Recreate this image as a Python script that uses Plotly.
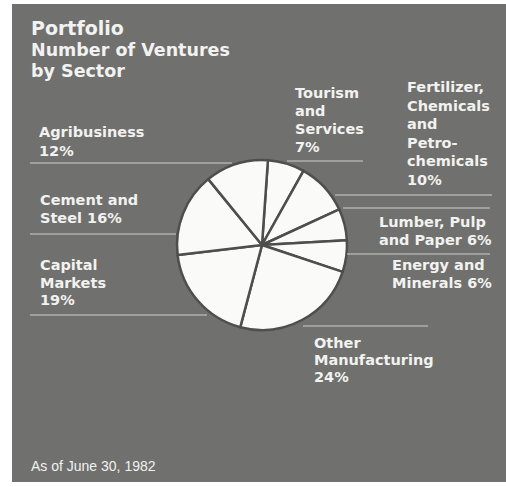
import plotly.graph_objects as go

W, H = 506, 487

# Portfolio composition, clockwise from 12 o'clock
sectors = [
    "Tourism and Services",
    "Fertilizer, Chemicals and Petrochemicals",
    "Lumber, Pulp and Paper",
    "Energy and Minerals",
    "Other Manufacturing",
    "Capital Markets",
    "Cement and Steel",
    "Agribusiness",
]
shares = [7, 10, 6, 6, 24, 19, 16, 12]

# Label text, split into printed lines, keyed to the sector list
label_lines = [
    ["Tourism", "and", "Services", "{}%"],
    ["Fertilizer,", "Chemicals", "and", "Petro-", "chemicals", "{}%"],
    ["Lumber, Pulp", "and Paper {}%"],
    ["Energy and", "Minerals {}%"],
    ["Other", "Manufacturing", "{}%"],
    ["Capital", "Markets", "{}%"],
    ["Cement and", "Steel {}%"],
    ["Agribusiness", "{}%"],
]

title_lines = ["Portfolio", "Number of Ventures", "by Sector"]
footnote = "As of June 30, 1982"

BG = "rgb(112,112,110)"
INK = "rgb(242,242,240)"
RULE = "rgb(205,205,203)"
FONT = "DejaVu Sans"


def px(x):
    return x / W


def py(y):
    return 1 - y / H


# pie geometry (pixels)
cx, cy, r = 262, 245, 85

fig = go.Figure()
fig.add_trace(go.Pie(
    labels=sectors,
    values=shares,
    sort=False,
    direction="clockwise",
    rotation=4,
    textinfo="none",
    hoverinfo="label+percent",
    marker=dict(colors=["rgb(250,250,248)"] * len(shares),
                line=dict(color="rgb(78,78,76)", width=2.5)),
    domain=dict(x=[px(cx - r), px(cx + r)], y=[py(cy + r), py(cy - r)]),
    showlegend=False,
))

shapes = [dict(type="rect", xref="paper", yref="paper",
               x0=px(12), x1=px(506), y0=py(482), y1=py(4),
               fillcolor=BG, line=dict(width=0), layer="below")]

# label placement: left x, top of first line, line pitch (pixels)
label_pos = [(293, 88, 18), (405, 82, 18.6), (377, 217, 18), (390, 260, 18),
             (312, 338, 17), (38, 260, 17.5), (38, 195, 18), (37, 127, 19)]
# rule under each label: x from, x to, y
rules = [(287, 363, 161), (335, 492, 195), (343, 490, 208), (347, 490, 254),
         (303, 428, 326), (30, 207, 315), (30, 176, 234), (30, 232, 163)]

for x0, x1, y in rules:
    shapes.append(dict(type="line", xref="paper", yref="paper",
                       x0=px(x0), x1=px(x1), y0=py(y), y1=py(y),
                       line=dict(color=RULE, width=1.2)))

annotations = []


def add_text(x, top, text, size, weight="bold", family=FONT, offset=5):
    annotations.append(dict(
        x=px(x), y=py(top - offset), xref="paper", yref="paper",
        xanchor="left", yanchor="top", align="left", showarrow=False,
        text=text, font=dict(family=family, size=size, color=INK, weight=weight)))


for lines, share, (lx, ly, pitch) in zip(label_lines, shares, label_pos):
    for i, s in enumerate(lines):
        add_text(lx, ly + i * pitch, s.format(share), 14.5)

add_text(29, 20, title_lines[0], 19)
add_text(29, 43, title_lines[1], 17.5)
add_text(29, 64, title_lines[2], 17.5)
add_text(29, 460, footnote, 14, weight="normal", family="Liberation Sans", offset=4)

fig.update_layout(
    width=W, height=H,
    margin=dict(l=0, r=0, t=0, b=0),
    paper_bgcolor="white",
    plot_bgcolor="white",
    shapes=shapes,
    annotations=annotations,
)

fig.write_html("out.html")
